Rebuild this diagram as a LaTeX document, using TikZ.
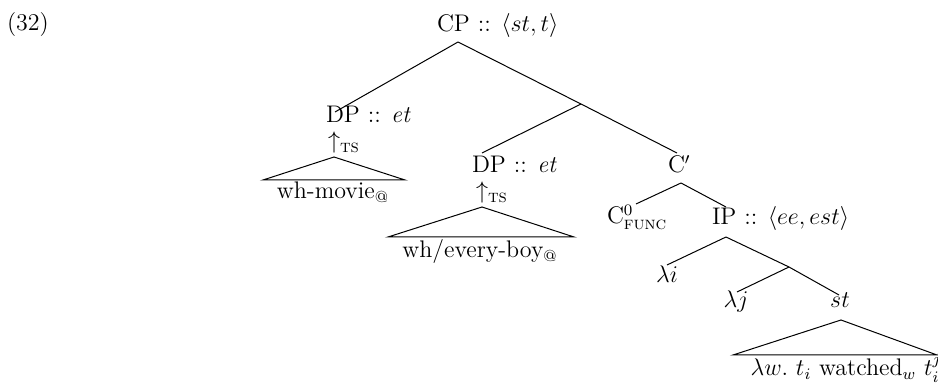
\documentclass[tikz,border=0pt]{standalone}
\usepackage{amsmath}
\begin{document}
\begin{tikzpicture}[x=0.5pt,y=-0.5pt,
  lab/.style={inner sep=0pt,outer sep=0pt,font=\fontsize{12}{14}\selectfont},
  edge/.style={line width=0.5pt},
  tri/.style={line width=0.5pt,line join=miter}]
\useasboundingbox (0,0) rectangle (938,389);
\newcommand{\tsmark}{\mbox{\fontsize{9}{10}\selectfont\textsc{ts}}}
% labels
\node[lab,anchor=base west] (ex) at (7,31) {(32)};
\node[lab,anchor=base west] (cp) at (437,32) {CP :: $\langle st, t\rangle$};
\node[lab,anchor=base west] (dp1) at (326,123) {DP :: \textit{et}};
\node[lab,anchor=base west] (ts1) at (328,149) {$\uparrow_{\tsmark}$};
\node[lab,anchor=base] (wm) at (333,199) {wh-movie$_{@}$};
\node[lab,anchor=base west] (dp2) at (472,173) {DP :: \textit{et}};
\node[lab,anchor=base west] (ts2) at (476,199) {$\uparrow_{\tsmark}$};
\node[lab,anchor=base] (wb) at (480,258) {wh/every-boy$_{@}$};
\node[lab,anchor=base west] (cbar) at (668,173) {C$'$};
\node[lab,anchor=base west] (c0) at (607,224) {C$^{0}_{\text{\fontsize{9}{10}\selectfont\textsc{func}}}$};
\node[lab,anchor=base west] (ip) at (712,225) {IP :: $\langle ee, est\rangle$};
\node[lab,anchor=base] (li) at (667,283) {$\lambda i$};
\node[lab,anchor=base] (lj) at (736,308) {$\lambda j$};
\node[lab,anchor=base] (st) at (840,308) {$st$};
\node[lab,anchor=base] (lw) at (846,376) {$\lambda w.\ t_i$ watched$_w$ $t_i^j$};
% branch points
\coordinate (cpB) at (458,42);
\coordinate (dp1T) at (335,112);
\coordinate (m1) at (581,104);
\coordinate (dp2T) at (482,153);
\coordinate (cbT) at (677,153);
\coordinate (cbB) at (681,183);
\coordinate (c0T) at (636,204);
\coordinate (ipT) at (726,207);
\coordinate (ipB) at (726,237);
\coordinate (liT) at (667,265);
\coordinate (m2) at (789,267);
\coordinate (ljT) at (737,292);
\coordinate (stT) at (839,295);
% triangles
\coordinate (t1a) at (334,157); \coordinate (t1l) at (263,180); \coordinate (t1r) at (405,180);
\coordinate (t2a) at (482,207); \coordinate (t2l) at (388,237); \coordinate (t2r) at (574,237);
\coordinate (t3a) at (841,320); \coordinate (t3l) at (733,355); \coordinate (t3r) at (937,355);
% edges
\draw[edge] (cpB) -- (dp1T);
\draw[edge] (cpB) -- (m1) -- (cbT);
\draw[edge] (m1) -- (dp2T);
\draw[edge] (cbB) -- (c0T);
\draw[edge] (cbB) -- (ipT);
\draw[edge] (ipB) -- (liT);
\draw[edge] (ipB) -- (m2) -- (stT);
\draw[edge] (m2) -- (ljT);
\draw[tri] (t1a) -- (t1l) -- (t1r) -- cycle;
\draw[tri] (t2a) -- (t2l) -- (t2r) -- cycle;
\draw[tri] (t3a) -- (t3l) -- (t3r) -- cycle;
\end{tikzpicture}
\end{document}
